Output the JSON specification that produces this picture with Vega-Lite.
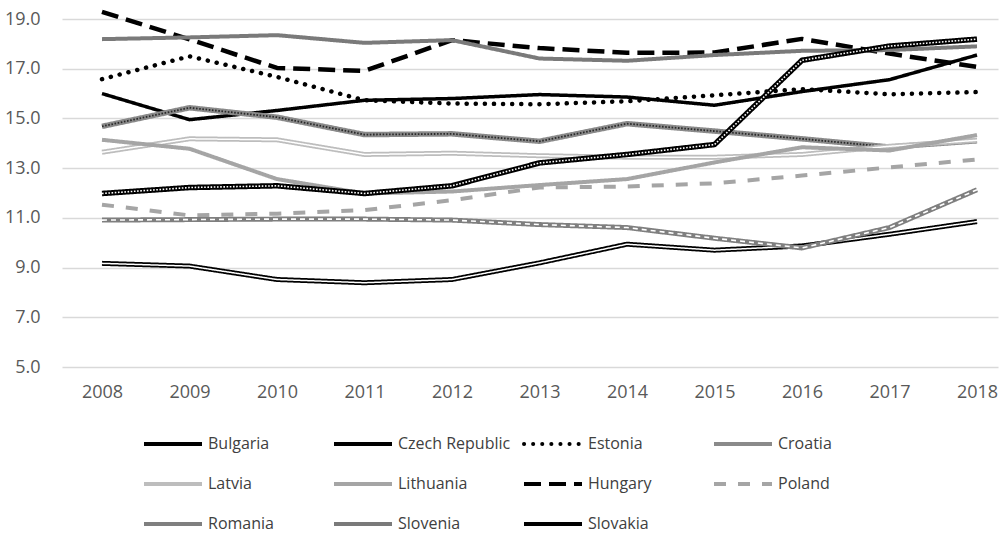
{
  "$schema": "https://vega.github.io/schema/vega-lite/v6.json",
  "width": 936,
  "height": 348,
  "autosize": {"type": "none"},
  "padding": {"left": 62, "top": 19, "right": 6, "bottom": 167},
  "background": "#ffffff",
  "config": {"view": {"stroke": null}, "font": "Open Sans"},
  "data": {"values": [
    {"country":"Bulgaria","year":2008,"value":9.17},{"country":"Bulgaria","year":2009,"value":9.06},{"country":"Bulgaria","year":2010,"value":8.52},{"country":"Bulgaria","year":2011,"value":8.39},{"country":"Bulgaria","year":2012,"value":8.52},{"country":"Bulgaria","year":2013,"value":9.19},{"country":"Bulgaria","year":2014,"value":9.94},{"country":"Bulgaria","year":2015,"value":9.70},{"country":"Bulgaria","year":2016,"value":9.87},{"country":"Bulgaria","year":2017,"value":10.34},{"country":"Bulgaria","year":2018,"value":10.85},
    {"country":"Czech Republic","year":2008,"value":16.0},{"country":"Czech Republic","year":2009,"value":14.95},{"country":"Czech Republic","year":2010,"value":15.32},{"country":"Czech Republic","year":2011,"value":15.73},{"country":"Czech Republic","year":2012,"value":15.80},{"country":"Czech Republic","year":2013,"value":15.96},{"country":"Czech Republic","year":2014,"value":15.86},{"country":"Czech Republic","year":2015,"value":15.53},{"country":"Czech Republic","year":2016,"value":16.08},{"country":"Czech Republic","year":2017,"value":16.56},{"country":"Czech Republic","year":2018,"value":17.55},
    {"country":"Estonia","year":2008,"value":16.58},{"country":"Estonia","year":2009,"value":17.5},{"country":"Estonia","year":2010,"value":16.67},{"country":"Estonia","year":2011,"value":15.73},{"country":"Estonia","year":2012,"value":15.6},{"country":"Estonia","year":2013,"value":15.57},{"country":"Estonia","year":2014,"value":15.69},{"country":"Estonia","year":2015,"value":15.93},{"country":"Estonia","year":2016,"value":16.18},{"country":"Estonia","year":2017,"value":15.97},{"country":"Estonia","year":2018,"value":16.06},
    {"country":"Croatia","year":2008,"value":14.68},{"country":"Croatia","year":2009,"value":15.43},{"country":"Croatia","year":2010,"value":15.05},{"country":"Croatia","year":2011,"value":14.35},{"country":"Croatia","year":2012,"value":14.38},{"country":"Croatia","year":2013,"value":14.08},{"country":"Croatia","year":2014,"value":14.79},{"country":"Croatia","year":2015,"value":14.49},{"country":"Croatia","year":2016,"value":14.18},{"country":"Croatia","year":2017,"value":13.85},{"country":"Croatia","year":2018,"value":14.1},
    {"country":"Latvia","year":2008,"value":13.64},{"country":"Latvia","year":2009,"value":14.18},{"country":"Latvia","year":2010,"value":14.14},{"country":"Latvia","year":2011,"value":13.55},{"country":"Latvia","year":2012,"value":13.6},{"country":"Latvia","year":2013,"value":13.5},{"country":"Latvia","year":2014,"value":13.44},{"country":"Latvia","year":2015,"value":13.44},{"country":"Latvia","year":2016,"value":13.55},{"country":"Latvia","year":2017,"value":13.88},{"country":"Latvia","year":2018,"value":14.12},
    {"country":"Lithuania","year":2008,"value":14.14},{"country":"Lithuania","year":2009,"value":13.78},{"country":"Lithuania","year":2010,"value":12.56},{"country":"Lithuania","year":2011,"value":11.98},{"country":"Lithuania","year":2012,"value":12.06},{"country":"Lithuania","year":2013,"value":12.32},{"country":"Lithuania","year":2014,"value":12.56},{"country":"Lithuania","year":2015,"value":13.23},{"country":"Lithuania","year":2016,"value":13.84},{"country":"Lithuania","year":2017,"value":13.71},{"country":"Lithuania","year":2018,"value":14.33},
    {"country":"Hungary","year":2008,"value":19.29},{"country":"Hungary","year":2009,"value":18.18},{"country":"Hungary","year":2010,"value":17.03},{"country":"Hungary","year":2011,"value":16.91},{"country":"Hungary","year":2012,"value":18.15},{"country":"Hungary","year":2013,"value":17.83},{"country":"Hungary","year":2014,"value":17.64},{"country":"Hungary","year":2015,"value":17.65},{"country":"Hungary","year":2016,"value":18.2},{"country":"Hungary","year":2017,"value":17.61},{"country":"Hungary","year":2018,"value":17.07},
    {"country":"Poland","year":2008,"value":11.53},{"country":"Poland","year":2009,"value":11.1},{"country":"Poland","year":2010,"value":11.17},{"country":"Poland","year":2011,"value":11.31},{"country":"Poland","year":2012,"value":11.71},{"country":"Poland","year":2013,"value":12.22},{"country":"Poland","year":2014,"value":12.26},{"country":"Poland","year":2015,"value":12.39},{"country":"Poland","year":2016,"value":12.7},{"country":"Poland","year":2017,"value":13.03},{"country":"Poland","year":2018,"value":13.35},
    {"country":"Romania","year":2008,"value":10.91},{"country":"Romania","year":2009,"value":10.93},{"country":"Romania","year":2010,"value":10.95},{"country":"Romania","year":2011,"value":10.95},{"country":"Romania","year":2012,"value":10.91},{"country":"Romania","year":2013,"value":10.73},{"country":"Romania","year":2014,"value":10.61},{"country":"Romania","year":2015,"value":10.18},{"country":"Romania","year":2016,"value":9.79},{"country":"Romania","year":2017,"value":10.61},{"country":"Romania","year":2018,"value":12.13},
    {"country":"Slovenia","year":2008,"value":18.19},{"country":"Slovenia","year":2009,"value":18.26},{"country":"Slovenia","year":2010,"value":18.35},{"country":"Slovenia","year":2011,"value":18.04},{"country":"Slovenia","year":2012,"value":18.15},{"country":"Slovenia","year":2013,"value":17.41},{"country":"Slovenia","year":2014,"value":17.32},{"country":"Slovenia","year":2015,"value":17.55},{"country":"Slovenia","year":2016,"value":17.72},{"country":"Slovenia","year":2017,"value":17.75},{"country":"Slovenia","year":2018,"value":17.9},
    {"country":"Slovakia","year":2008,"value":11.98},{"country":"Slovakia","year":2009,"value":12.22},{"country":"Slovakia","year":2010,"value":12.29},{"country":"Slovakia","year":2011,"value":11.98},{"country":"Slovakia","year":2012,"value":12.29},{"country":"Slovakia","year":2013,"value":13.21},{"country":"Slovakia","year":2014,"value":13.55},{"country":"Slovakia","year":2015,"value":13.95},{"country":"Slovakia","year":2016,"value":17.34},{"country":"Slovakia","year":2017,"value":17.91},{"country":"Slovakia","year":2018,"value":18.19}
  ]},
  "encoding": {
    "x": {"field": "year", "type": "quantitative",
      "scale": {"domain": [2007.543, 2018.24], "nice": false, "zero": false},
      "axis": {"title": null, "values": [2008,2009,2010,2011,2012,2013,2014,2015,2016,2017,2018], "format": "d", "grid": false, "ticks": false, "domain": false, "labelFont": "Open Sans", "labelFontSize": 18, "labelColor": "#595959", "labelPadding": 16, "labelFlush": false}},
    "y": {"field": "value", "type": "quantitative",
      "scale": {"domain": [5, 19], "nice": false, "zero": false},
      "axis": {"title": null, "values": [5,7,9,11,13,15,17,19], "format": ".1f", "grid": true, "gridColor": "#d9d9d9", "gridWidth": 1.5, "ticks": false, "domain": false, "labelFont": "Open Sans", "labelFontSize": 18, "labelColor": "#595959", "labelPadding": 22}},
    "stroke": {"field": "country", "type": "nominal",
      "scale": {"domain": ["Bulgaria","Czech Republic","Estonia","Croatia","Latvia","Lithuania","Hungary","Poland","Romania","Slovenia","Slovakia"],
                "range": ["#000000","#000000","#000000","#8a8a8a","#bdbdbd","#a5a5a5","#000000","#a5a5a5","#7f7f7f","#7a7a7a","#000000"]},
      "legend": {"title": null, "orient": "none", "legendX": 80, "legendY": 394, "columns": 4, "direction": "horizontal", "gridAlign": "all", "columnPadding": 5, "rowPadding": 1,
                 "symbolType": "stroke", "symbolSize": 3364, "symbolStrokeWidth": 4, "labelFont": "Open Sans", "labelFontSize": 16, "labelColor": "#404040", "labelOffset": 4, "labelLimit": 200,
                 "encode": {"symbols": {"update": {"strokeCap": {"signal": "datum.value === 'Estonia' ? 'round' : 'butt'"}}}}}},
    "strokeDash": {"field": "country", "type": "nominal",
      "scale": {"domain": ["Bulgaria","Czech Republic","Estonia","Croatia","Latvia","Lithuania","Hungary","Poland","Romania","Slovenia","Slovakia"],
                "range": [[1,0],[1,0],[0.1,9],[1,0],[1,0],[1,0],[17,8],[12,12],[1,0],[1,0],[1,0]]}}
  },
  "layer": [
    {"transform": [{"filter": {"field": "country", "equal": "Bulgaria"}}], "mark": {"type": "line", "strokeWidth": 5, "strokeJoin": "round"}},
    {"transform": [{"filter": {"field": "country", "equal": "Bulgaria"}}], "mark": {"type": "line", "strokeWidth": 1.5, "strokeJoin": "round"}, "encoding": {"stroke": {"value": "#ffffff"}, "strokeDash": {"value": [1,0]}}},
    {"transform": [{"filter": {"field": "country", "equal": "Czech Republic"}}], "mark": {"type": "line", "strokeWidth": 3.5, "strokeJoin": "round"}},
    {"transform": [{"filter": {"field": "country", "equal": "Estonia"}}], "mark": {"type": "line", "strokeWidth": 4.5, "strokeCap": "round", "strokeJoin": "round"}},
    {"transform": [{"filter": {"field": "country", "equal": "Croatia"}}], "mark": {"type": "line", "strokeWidth": 5.5, "strokeJoin": "round"}},
    {"transform": [{"filter": {"field": "country", "equal": "Croatia"}}], "mark": {"type": "line", "strokeWidth": 1.8, "strokeJoin": "round"}, "encoding": {"stroke": {"value": "#2a2a2a"}, "strokeDash": {"value": [1.6,1.6]}}},
    {"transform": [{"filter": {"field": "country", "equal": "Latvia"}}], "mark": {"type": "line", "strokeWidth": 5, "strokeJoin": "round"}},
    {"transform": [{"filter": {"field": "country", "equal": "Latvia"}}], "mark": {"type": "line", "strokeWidth": 1.5, "strokeJoin": "round"}, "encoding": {"stroke": {"value": "#ffffff"}, "strokeDash": {"value": [1,0]}}},
    {"transform": [{"filter": {"field": "country", "equal": "Lithuania"}}], "mark": {"type": "line", "strokeWidth": 4, "strokeJoin": "round"}},
    {"transform": [{"filter": {"field": "country", "equal": "Hungary"}}], "mark": {"type": "line", "strokeWidth": 4.5, "strokeJoin": "round"}},
    {"transform": [{"filter": {"field": "country", "equal": "Poland"}}], "mark": {"type": "line", "strokeWidth": 4, "strokeJoin": "round"}},
    {"transform": [{"filter": {"field": "country", "equal": "Romania"}}], "mark": {"type": "line", "strokeWidth": 5, "strokeJoin": "round"}},
    {"transform": [{"filter": {"field": "country", "equal": "Romania"}}], "mark": {"type": "line", "strokeWidth": 1.6, "strokeJoin": "round"}, "encoding": {"stroke": {"value": "#ffffff"}, "strokeDash": {"value": [5,4]}}},
    {"transform": [{"filter": {"field": "country", "equal": "Slovenia"}}], "mark": {"type": "line", "strokeWidth": 4, "strokeJoin": "round"}},
    {"transform": [{"filter": {"field": "country", "equal": "Slovakia"}}], "mark": {"type": "line", "strokeWidth": 5.5, "strokeJoin": "round"}},
    {"transform": [{"filter": {"field": "country", "equal": "Slovakia"}}], "mark": {"type": "line", "strokeWidth": 1.6, "strokeJoin": "round"}, "encoding": {"stroke": {"value": "#ffffff"}, "strokeDash": {"value": [1.6,1.6]}}}
  ]
}
